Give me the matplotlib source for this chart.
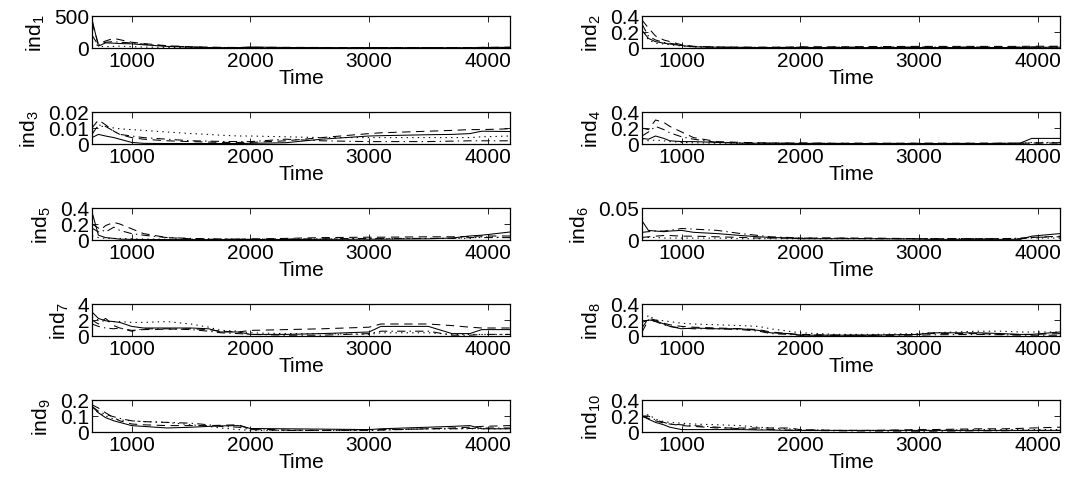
import matplotlib
matplotlib.use("Agg")
import matplotlib.pyplot as plt

plt.rcParams["font.family"] = ["Liberation Sans", "DejaVu Sans"]
plt.rcParams["font.size"] = 15
plt.rcParams["mathtext.fontset"] = "custom"
plt.rcParams["mathtext.rm"] = "Liberation Sans"
plt.rcParams["mathtext.it"] = "Liberation Sans"
plt.rcParams["lines.scale_dashes"] = False

# time grid shared by every indicator
time = [666, 720, 780, 850, 900, 1000, 1100, 1300, 1500, 1650, 1750,
        1900, 2000, 2300, 2600, 3000, 3100, 3500, 3700, 3850, 3950, 4188]

# each indicator: solid, dashed, dotted, dash-dot
ind1 = [
    [450, 30, 80, 75, 70, 65, 50, 25, 12, 8, 6, 6, 15, 8, 5, 5, 5, 4, 4, 4, 8, 10],
    [400, 60, 110, 150, 130, 90, 70, 35, 20, 12, 10, 8, 10, 10, 8, 6, 6, 6, 6, 6, 10, 12],
    [100, 30, 20, 25, 30, 20, 15, 10, 8, 6, 5, 5, 5, 5, 5, 5, 5, 5, 5, 5, 5, 5],
    [200, 40, 90, 100, 90, 80, 60, 30, 18, 10, 8, 6, 8, 6, 5, 5, 5, 5, 5, 5, 8, 8],
]
ind2 = [
    [0.22, 0.12, 0.08, 0.06, 0.05, 0.03, 0.015, 0.01, 0.008, 0.006, 0.006, 0.005, 0.006, 0.005, 0.005, 0.006, 0.006, 0.006, 0.006, 0.006, 0.008, 0.01],
    [0.35, 0.25, 0.15, 0.1, 0.08, 0.04, 0.02, 0.012, 0.01, 0.01, 0.01, 0.012, 0.015, 0.015, 0.018, 0.02, 0.02, 0.02, 0.02, 0.02, 0.022, 0.022],
    [0.25, 0.1, 0.06, 0.05, 0.04, 0.025, 0.012, 0.008, 0.006, 0.005, 0.005, 0.005, 0.005, 0.005, 0.006, 0.006, 0.006, 0.006, 0.006, 0.006, 0.006, 0.006],
    [0.3, 0.15, 0.1, 0.07, 0.06, 0.035, 0.02, 0.01, 0.008, 0.008, 0.008, 0.008, 0.01, 0.01, 0.012, 0.012, 0.012, 0.012, 0.012, 0.012, 0.014, 0.014],
]
ind3 = [
    [0.004, 0.006, 0.005, 0.004, 0.003, 0.001, 0.0004, 0.0003, 0.0003, 0.0003, 0.0003, 0.0003, 0.0004, 0.0008, 0.003, 0.005, 0.0052, 0.0058, 0.006, 0.0065, 0.008, 0.0078],
    [0.01, 0.015, 0.012, 0.008, 0.006, 0.004, 0.003, 0.002, 0.0015, 0.0012, 0.001, 0.001, 0.001, 0.002, 0.004, 0.0065, 0.007, 0.008, 0.0085, 0.009, 0.009, 0.0095],
    [0.008, 0.011, 0.011, 0.01, 0.0095, 0.009, 0.0085, 0.0075, 0.0065, 0.006, 0.0055, 0.005, 0.005, 0.0045, 0.004, 0.004, 0.004, 0.004, 0.004, 0.004, 0.0045, 0.005],
    [0.006, 0.012, 0.011, 0.008, 0.006, 0.005, 0.004, 0.003, 0.002, 0.0018, 0.0016, 0.0015, 0.0015, 0.003, 0.002, 0.0015, 0.0015, 0.0015, 0.0018, 0.002, 0.002, 0.002],
]
ind4 = [
    [0.07, 0.06, 0.1, 0.07, 0.04, 0.03, 0.03, 0.02, 0.01, 0.01, 0.01, 0.008, 0.008, 0.006, 0.006, 0.006, 0.006, 0.006, 0.008, 0.01, 0.07, 0.07],
    [0.2, 0.18, 0.3, 0.27, 0.22, 0.15, 0.08, 0.03, 0.02, 0.015, 0.012, 0.012, 0.012, 0.01, 0.01, 0.01, 0.01, 0.01, 0.01, 0.01, 0.012, 0.012],
    [0.06, 0.04, 0.05, 0.04, 0.03, 0.02, 0.015, 0.01, 0.008, 0.006, 0.006, 0.006, 0.006, 0.006, 0.006, 0.006, 0.006, 0.006, 0.006, 0.006, 0.02, 0.02],
    [0.1, 0.15, 0.22, 0.18, 0.14, 0.09, 0.06, 0.02, 0.015, 0.012, 0.01, 0.01, 0.01, 0.008, 0.008, 0.008, 0.008, 0.008, 0.008, 0.01, 0.012, 0.015],
]
ind5 = [
    [0.35, 0.06, 0.03, 0.02, 0.01, 0.008, 0.006, 0.005, 0.005, 0.005, 0.005, 0.005, 0.006, 0.006, 0.008, 0.01, 0.01, 0.015, 0.025, 0.05, 0.06, 0.1],
    [0.15, 0.1, 0.18, 0.22, 0.2, 0.14, 0.08, 0.03, 0.015, 0.01, 0.01, 0.01, 0.012, 0.02, 0.03, 0.035, 0.035, 0.04, 0.04, 0.045, 0.05, 0.05],
    [0.05, 0.03, 0.02, 0.02, 0.02, 0.015, 0.012, 0.01, 0.01, 0.01, 0.01, 0.01, 0.01, 0.01, 0.012, 0.015, 0.015, 0.02, 0.02, 0.02, 0.04, 0.03],
    [0.2, 0.15, 0.1, 0.16, 0.12, 0.08, 0.06, 0.03, 0.02, 0.015, 0.012, 0.012, 0.012, 0.012, 0.015, 0.02, 0.02, 0.02, 0.02, 0.03, 0.03, 0.03],
]
ind6 = [
    [0.03, 0.015, 0.014, 0.013, 0.014, 0.015, 0.012, 0.01, 0.007, 0.005, 0.004, 0.003, 0.002, 0.002, 0.002, 0.0015, 0.001, 0.001, 0.001, 0.001, 0.006, 0.01],
    [0.004, 0.005, 0.006, 0.007, 0.007, 0.006, 0.006, 0.005, 0.004, 0.003, 0.003, 0.003, 0.003, 0.003, 0.003, 0.002, 0.002, 0.002, 0.002, 0.002, 0.004, 0.006],
    [0.003, 0.004, 0.004, 0.003, 0.003, 0.003, 0.003, 0.003, 0.002, 0.002, 0.002, 0.002, 0.002, 0.002, 0.002, 0.002, 0.002, 0.002, 0.002, 0.002, 0.003, 0.003],
    [0.012, 0.013, 0.014, 0.014, 0.015, 0.018, 0.017, 0.015, 0.01, 0.007, 0.005, 0.004, 0.003, 0.003, 0.002, 0.002, 0.002, 0.002, 0.002, 0.003, 0.004, 0.005],
]
ind7 = [
    [3.0, 2.2, 1.9, 1.8, 1.7, 1.2, 1.0, 1.0, 1.0, 0.9, 0.5, 0.5, 0.2, 0.2, 0.3, 0.5, 1.2, 1.2, 0.3, 0.3, 0.8, 0.8],
    [2.0, 1.5, 2.2, 1.3, 1.0, 0.7, 0.8, 0.85, 0.9, 0.8, 0.6, 0.5, 0.7, 0.8, 0.9, 1.1, 1.5, 1.5, 1.3, 1.1, 1.0, 1.0],
    [2.4, 2.0, 1.8, 1.8, 1.8, 1.7, 1.7, 1.8, 1.5, 1.1, 0.7, 0.6, 0.4, 0.3, 0.3, 0.2, 0.4, 0.4, 0.2, 0.2, 0.2, 0.2],
    [1.5, 1.2, 1.0, 0.9, 1.0, 0.6, 0.9, 0.9, 0.8, 0.6, 0.4, 0.3, 0.2, 0.1, 0.1, 0.3, 0.6, 0.6, 0.1, 0.1, 0.2, 0.2],
]
ind8 = [
    [0.17, 0.2, 0.19, 0.15, 0.12, 0.09, 0.1, 0.09, 0.09, 0.07, 0.04, 0.03, 0.01, 0.01, 0.01, 0.02, 0.04, 0.04, 0.03, 0.02, 0.02, 0.05],
    [0.1, 0.22, 0.2, 0.16, 0.14, 0.12, 0.11, 0.1, 0.09, 0.08, 0.05, 0.03, 0.02, 0.01, 0.01, 0.02, 0.03, 0.03, 0.02, 0.02, 0.02, 0.03],
    [0.12, 0.26, 0.2, 0.19, 0.18, 0.16, 0.15, 0.14, 0.13, 0.12, 0.09, 0.06, 0.04, 0.02, 0.02, 0.03, 0.04, 0.06, 0.06, 0.05, 0.05, 0.05],
    [0.05, 0.2, 0.18, 0.14, 0.12, 0.1, 0.09, 0.09, 0.08, 0.06, 0.03, 0.02, 0.01, 0.01, 0.01, 0.01, 0.015, 0.02, 0.015, 0.01, 0.01, 0.01],
]
ind9 = [
    [0.16, 0.12, 0.09, 0.07, 0.06, 0.04, 0.035, 0.025, 0.03, 0.035, 0.038, 0.04, 0.022, 0.02, 0.018, 0.015, 0.02, 0.03, 0.035, 0.04, 0.02, 0.02],
    [0.17, 0.15, 0.12, 0.09, 0.07, 0.05, 0.045, 0.04, 0.04, 0.04, 0.042, 0.045, 0.02, 0.012, 0.01, 0.015, 0.015, 0.02, 0.025, 0.03, 0.035, 0.04],
    [0.15, 0.12, 0.1, 0.08, 0.075, 0.07, 0.065, 0.06, 0.045, 0.035, 0.025, 0.015, 0.01, 0.01, 0.01, 0.01, 0.012, 0.02, 0.02, 0.02, 0.02, 0.02],
    [0.16, 0.13, 0.11, 0.095, 0.085, 0.07, 0.065, 0.06, 0.055, 0.045, 0.035, 0.03, 0.015, 0.01, 0.01, 0.01, 0.012, 0.02, 0.02, 0.022, 0.025, 0.025],
]
ind10 = [
    [0.2, 0.16, 0.12, 0.09, 0.06, 0.03, 0.03, 0.03, 0.03, 0.025, 0.025, 0.02, 0.02, 0.02, 0.02, 0.02, 0.02, 0.02, 0.02, 0.02, 0.02, 0.02],
    [0.2, 0.17, 0.14, 0.11, 0.1, 0.08, 0.07, 0.05, 0.05, 0.05, 0.05, 0.05, 0.03, 0.02, 0.02, 0.03, 0.03, 0.04, 0.04, 0.045, 0.05, 0.06],
    [0.18, 0.22, 0.16, 0.13, 0.12, 0.11, 0.1, 0.09, 0.08, 0.06, 0.05, 0.04, 0.03, 0.02, 0.02, 0.02, 0.02, 0.03, 0.03, 0.03, 0.03, 0.03],
    [0.2, 0.2, 0.15, 0.12, 0.1, 0.09, 0.08, 0.06, 0.04, 0.035, 0.03, 0.025, 0.02, 0.015, 0.012, 0.01, 0.01, 0.015, 0.015, 0.02, 0.02, 0.02],
]

indicators = [ind1, ind2, ind3, ind4, ind5, ind6, ind7, ind8, ind9, ind10]
y_ticks = [
    [0, 500], [0, 0.2, 0.4], [0, 0.01, 0.02], [0, 0.2, 0.4], [0, 0.2, 0.4],
    [0, 0.05], [0, 2, 4], [0, 0.2, 0.4], [0, 0.1, 0.2], [0, 0.2, 0.4],
]
y_ticklabels = [
    ["0", "500"], ["0", "0.2", "0.4"], ["0", "0.01", "0.02"], ["0", "0.2", "0.4"],
    ["0", "0.2", "0.4"], ["0", "0.05"], ["0", "2", "4"], ["0", "0.2", "0.4"],
    ["0", "0.1", "0.2"], ["0", "0.2", "0.4"],
]

# solid, dashed, dotted, dash-dot (in points)
dash_styles = [None, (6, 4), (1, 3), (6, 3, 1, 3)]

W, H = 1068, 489
fig = plt.figure(figsize=(W / 100, H / 100), dpi=100)

ax_w, ax_h = 418, 32
lefts = [92, 642]
tops = [17, 113, 209, 305, 401]

for k, series in enumerate(indicators):
    row, col = divmod(k, 2)
    ax = fig.add_axes([lefts[col] / W, 1 - (tops[row] + ax_h) / H, ax_w / W, ax_h / H])
    for vals, d in zip(series, dash_styles):
        line, = ax.plot(time, vals, color="black", lw=0.75)
        if d is not None:
            line.set_dashes(d)
    ax.set_xlim(666, 4188)
    ax.set_ylim(y_ticks[k][0], y_ticks[k][-1])
    ax.set_xticks([1000, 2000, 3000, 4000])
    ax.set_yticks(y_ticks[k])
    ax.set_yticklabels(y_ticklabels[k])
    ax.tick_params(direction="in", top=True, right=True, length=4, width=0.6, pad=2)
    for s in ax.spines.values():
        s.set_linewidth(0.9)
    ax.set_xlabel("Time", labelpad=-1)
    ax.set_ylabel(r"ind$_{%d}$" % (k + 1), labelpad=5)

fig.savefig("out.png", dpi=100)
